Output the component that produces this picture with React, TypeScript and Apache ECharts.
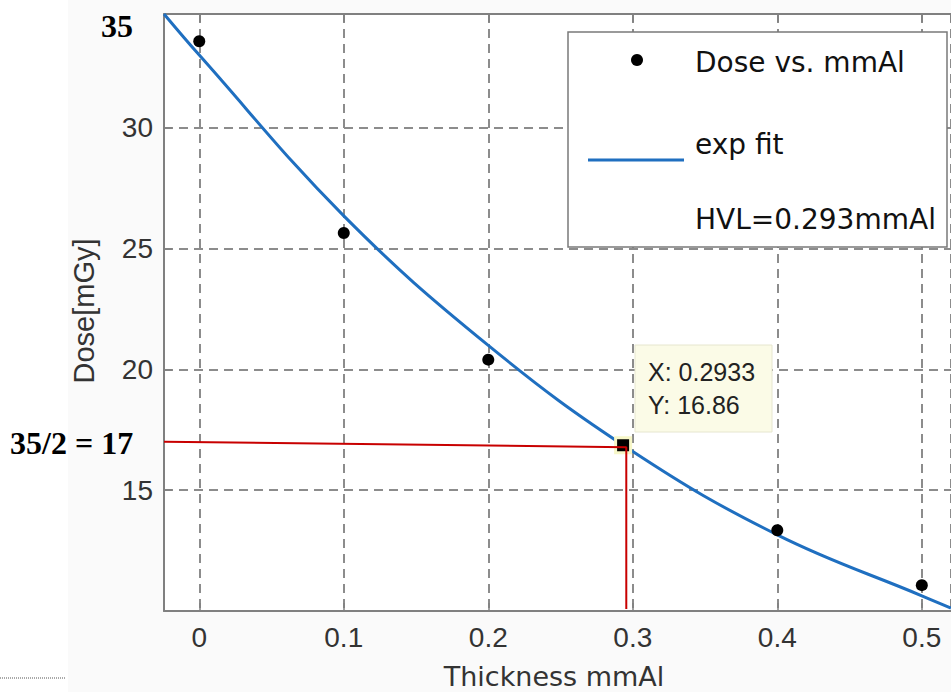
import React, { useEffect, useRef } from "react";
import * as echarts from "echarts";

// Measured data points (Dose vs. mmAl)
const pointX = [0, 0.1, 0.2, 0.4, 0.5];
const pointY = [33.57, 25.64, 20.4, 13.34, 11.07];

// Fitted curve
const fitX = [-0.0244, 0, 0.1, 0.2, 0.3, 0.4, 0.5, 0.5202];
const fitY = [34.7, 33.0, 26.35, 20.99, 16.6, 13.15, 10.63, 10.12];

// Data tip
const tipX = 0.2933;
const tipY = 16.86;
const tipLines = ["X: 0.2933", "Y: 16.86"];

// Red guide line (half dose)
const guideX = [-0.0244, 0.2955, 0.2955];
const guideY = [17.0, 16.78, 10.08];

// Axis extents
const X_MIN = -0.0244;
const X_MAX = 0.5202;
const Y_MIN = 10;
const Y_MAX = 34.7;
const Y_FIRST_LABEL = 15;

const legendLabels = ["Dose vs. mmAl", "exp fit", "HVL=0.293mmAl"];
const xTitle = "Thickness mmAl";
const yTitle = "Dose[mGy]";
const noteTop = "35";
const noteHalf = "35/2 = 17";

const AXIS_GREY = "#808080";
const SANS = "Liberation Sans";

export default function App() {
  const ref = useRef<HTMLDivElement>(null);

  useEffect(() => {
    document.body.style.margin = "0";
    const chart = echarts.init(ref.current!, undefined, { renderer: "svg" });

    const axisLabel = {
      fontSize: 28,
      fontFamily: SANS,
      color: "#333333",
      showMinLabel: false,
      showMaxLabel: false,
    };
    const splitLine = {
      show: true,
      lineStyle: { color: "#8c8c8c", width: 2, type: [9, 6] },
    };
    const axisLine = { show: true, onZero: false, lineStyle: { color: AXIS_GREY, width: 2 } };
    const axisTick = { show: true, inside: true, length: 8, lineStyle: { color: AXIS_GREY, width: 1.5 } };

    const option: any = {
      animation: false,
      backgroundColor: "#ffffff",
      grid: {
        left: 164,
        top: 14,
        right: 0,
        bottom: 81,
        show: true,
        backgroundColor: "#ffffff",
        borderWidth: 0,
      },
      xAxis: [
        {
          type: "value",
          min: X_MIN,
          max: X_MAX,
          position: "bottom",
          axisLine,
          axisTick,
          axisLabel: { ...axisLabel, margin: 12 },
          splitLine,
        },
        {
          type: "value",
          min: X_MIN,
          max: X_MAX,
          position: "top",
          axisLine,
          axisTick,
          axisLabel: { show: false },
          splitLine: { show: false },
        },
      ],
      yAxis: {
        type: "value",
        min: Y_MIN,
        max: Y_MAX,
        position: "left",
        axisLine,
        axisTick,
        axisLabel: {
          ...axisLabel,
          margin: 11,
          formatter: (v: number) => (v < Y_FIRST_LABEL ? "" : String(v)),
        },
        splitLine,
      },
      series: [
        {
          name: "exp fit",
          type: "line",
          data: fitX.map((x, i) => [x, fitY[i]]),
          showSymbol: false,
          smooth: 0.4,
          lineStyle: { color: "#1f6fc0", width: 3 },
          z: 2,
        },
        {
          name: "Dose vs. mmAl",
          type: "scatter",
          data: pointX.map((x, i) => [x, pointY[i]]),
          symbolSize: 12,
          itemStyle: { color: "#000000", opacity: 1 },
          z: 3,
        },
        {
          name: "tip",
          type: "scatter",
          data: [[tipX, tipY]],
          symbol: "rect",
          symbolSize: 15,
          itemStyle: { color: "#000000", opacity: 1, borderColor: "#f7f7c8", borderWidth: 3 },
          z: 4,
        },
        {
          name: "guide",
          type: "line",
          data: guideX.map((x, i) => [x, guideY[i]]),
          showSymbol: false,
          clip: false,
          lineStyle: { color: "#c80000", width: 2 },
          z: 5,
        },
      ],
      graphic: {
        elements: [
          {
            type: "rect",
            z: -100,
            silent: true,
            shape: { x: 68, y: 0, width: 900, height: 692 },
            style: { fill: "#fafafa" },
          },
          // Data tip box
          {
            type: "rect",
            z: 100,
            shape: { x: 635, y: 345, width: 137, height: 87 },
            style: { fill: "#fbfbe7", stroke: "#e6e6cf", lineWidth: 1 },
          },
          {
            type: "text",
            z: 101,
            x: 648,
            y: 372,
            style: { text: tipLines[0], fontSize: 25, fontFamily: SANS, fill: "#222", verticalAlign: "middle", align: "left" },
          },
          {
            type: "text",
            z: 101,
            x: 648,
            y: 405,
            style: { text: tipLines[1], fontSize: 25, fontFamily: SANS, fill: "#222", verticalAlign: "middle", align: "left" },
          },
          // Legend box
          {
            type: "rect",
            z: 100,
            shape: { x: 568, y: 32, width: 379, height: 215 },
            style: { fill: "#ffffff", stroke: "#7a7a7a", lineWidth: 1.5 },
          },
          {
            type: "circle",
            z: 101,
            shape: { cx: 637, cy: 60, r: 6 },
            style: { fill: "#000000" },
          },
          {
            type: "line",
            z: 101,
            shape: { x1: 588, y1: 160, x2: 684, y2: 160 },
            style: { stroke: "#1f6fc0", lineWidth: 3 },
          },
          {
            type: "text",
            z: 101,
            x: 695,
            y: 62,
            style: { text: legendLabels[0], fontSize: 28, fontFamily: "DejaVu Sans", fill: "#111", verticalAlign: "middle", align: "left" },
          },
          {
            type: "text",
            z: 101,
            x: 695,
            y: 144,
            style: { text: legendLabels[1], fontSize: 28, fontFamily: "DejaVu Sans", fill: "#111", verticalAlign: "middle", align: "left" },
          },
          {
            type: "text",
            z: 101,
            x: 695,
            y: 219,
            style: { text: legendLabels[2], fontSize: 28, fontFamily: "DejaVu Sans", fill: "#111", verticalAlign: "middle", align: "left" },
          },
          // Axis titles
          {
            type: "text",
            z: 50,
            x: 554,
            y: 676,
            style: { text: xTitle, fontSize: 27, fontFamily: "DejaVu Sans", fill: "#333", verticalAlign: "middle", align: "center" },
          },
          {
            type: "text",
            z: 50,
            x: 84,
            y: 311,
            rotation: Math.PI / 2,
            style: { text: yTitle, fontSize: 29, fontFamily: SANS, fill: "#333", verticalAlign: "middle", align: "center" },
          },
          // Annotations
          {
            type: "text",
            z: 50,
            x: 101,
            y: 26,
            style: { text: noteTop, fontSize: 32, fontWeight: "bold", fontFamily: "Liberation Serif", fill: "#000", verticalAlign: "middle", align: "left" },
          },
          {
            type: "text",
            z: 50,
            x: 10,
            y: 443,
            style: { text: noteHalf, fontSize: 32, fontWeight: "bold", fontFamily: "Liberation Serif", fill: "#000", verticalAlign: "middle", align: "left" },
          },
          {
            type: "line",
            z: 50,
            shape: { x1: 0, y1: 678, x2: 66, y2: 678 },
            style: { stroke: "#555", lineWidth: 1, lineDash: [1, 1] },
          },
        ],
      },
    };

    chart.setOption(option);
    return () => chart.dispose();
  }, []);

  return <div ref={ref} style={{ width: 951, height: 692 }} />;
}
